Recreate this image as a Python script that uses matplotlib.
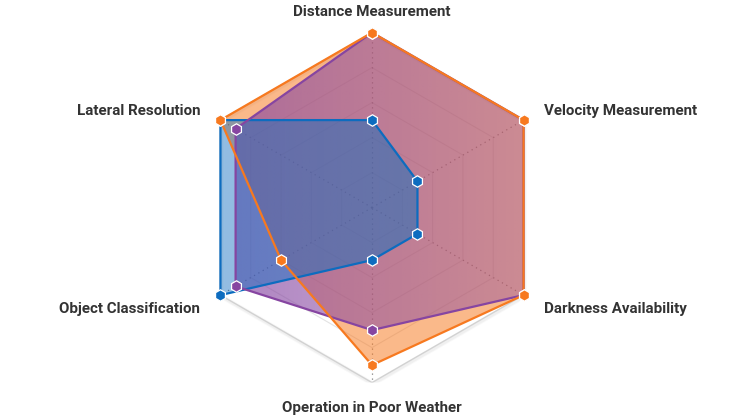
import numpy as np
import matplotlib
matplotlib.use("Agg")
import matplotlib.pyplot as plt
import matplotlib.transforms as mtrans
from matplotlib.colors import to_rgb

categories = ["Distance Measurement", "Velocity Measurement", "Darkness Availability",
              "Operation in Poor Weather", "Object Classification", "Lateral Resolution"]
series_names = ["Camera", "Radar", "Lidar"]
blue_vals = [5, 3, 3, 3, 10, 10]
orange_vals = [10, 10, 10, 9, 6, 10]
purple_vals = [10, 10, 10, 7, 9, 9]
grid_levels = [2, 4, 6, 8]
r_max = 10

BLUE = "#0d6cbf"
ORANGE = "#f7791f"
PURPLE = "#8645a1"

plt.rcParams['font.family'] = ['Roboto', 'DejaVu Sans']

W, H = 755, 415
fig = plt.figure(figsize=(W / 100, H / 100), dpi=100)
cx, cy, R = 372, 207.6, 175
rect = [(cx - R) / W, (H - cy - R) / H, 2 * R / W, 2 * R / H]


def make_polar(z):
    a = fig.add_axes(rect, projection='polar', zorder=z)
    a.set_theta_zero_location('N')
    a.set_theta_direction(-1)
    a.set_ylim(0, r_max)
    a.grid(False)
    a.set_xticks([])
    a.set_yticks([])
    a.spines['polar'].set_visible(False)
    a.patch.set_alpha(0)
    return a


ax = make_polar(1)       # grid + base fill
axg = fig.add_axes(rect, zorder=2)   # gradient fills
axg.set_xlim(-r_max, r_max)
axg.set_ylim(-r_max, r_max)
axg.set_axis_off()
axt = make_polar(3)      # lines, markers, labels

n = len(categories)
ang = np.arange(n) * 2 * np.pi / n
angc = np.append(ang, ang[0])


def closed(v):
    return np.append(v, v[0])


# grid rings
for lv in grid_levels:
    ax.plot(angc, [lv] * (n + 1), color="#e3e3e3", lw=0.8, zorder=1)
shadow = ax.transData + mtrans.ScaledTranslation(0.6 / 72, -1.0 / 72, fig.dpi_scale_trans)
for lw, a in [(3.5, 0.025), (2.2, 0.035)]:
    ax.plot(angc, [r_max] * (n + 1), color="black", alpha=a, lw=lw, zorder=0.5, transform=shadow)
ax.plot(angc, [r_max] * (n + 1), color="#d2d2d2", lw=1.0, zorder=1)
for a in ang:
    ax.plot([a, a], [0, r_max], color="#808080", lw=0.9, ls=(0, (1, 3)), zorder=1)

# orange fill (uniform)
ax.fill(angc, closed(orange_vals), color=ORANGE, alpha=0.52, lw=0, zorder=2)


def gradient_fill(vals, color, a_left, a_right, z):
    clip = ax.fill(angc, closed(vals), facecolor='none', lw=0)[0]
    clip.set_visible(False)
    xs = np.asarray(vals) * np.sin(ang)
    x0, x1 = xs.min(), xs.max()
    gx = np.linspace(-r_max, r_max, 400)
    t = np.clip((gx - x0) / (x1 - x0), 0, 1)
    alpha = a_left + (a_right - a_left) * t
    img = np.zeros((2, gx.size, 4))
    img[..., :3] = to_rgb(color)
    img[..., 3] = alpha[None, :]
    im = axg.imshow(img, extent=(-r_max, r_max, -r_max, r_max), origin='lower',
                    aspect='auto', interpolation='bilinear', zorder=z)
    im.set_clip_path(clip)


gradient_fill(purple_vals, PURPLE, 0.66, 0.40, 1)
gradient_fill(blue_vals, BLUE, 0.45, 0.5, 2)

line_order = [(blue_vals, BLUE), (purple_vals, PURPLE), (orange_vals, ORANGE)]
for vals, col in line_order:
    axt.plot(angc, closed(vals), color=col, lw=1.6, zorder=3)
for vals, col in line_order:
    axt.plot(ang, vals, ls='none', marker='h', ms=8.2, mfc=col, mec='white', mew=0.9,
             zorder=4, clip_on=False)

lab_tr = axt.transData + mtrans.ScaledTranslation(0, -2.5 / 72 * 0.72, fig.dpi_scale_trans)
for a, lab in zip(ang, categories):
    s = np.sin(a)
    if abs(s) < 1e-6:
        ha = 'center'
    elif s > 0:
        ha = 'left'
    else:
        ha = 'right'
    axt.text(a, 11.33, lab, ha=ha, va='center', fontsize=10.9, fontweight='bold',
             color="#333333", zorder=5, transform=lab_tr)

fig.savefig("out.png", dpi=100)
